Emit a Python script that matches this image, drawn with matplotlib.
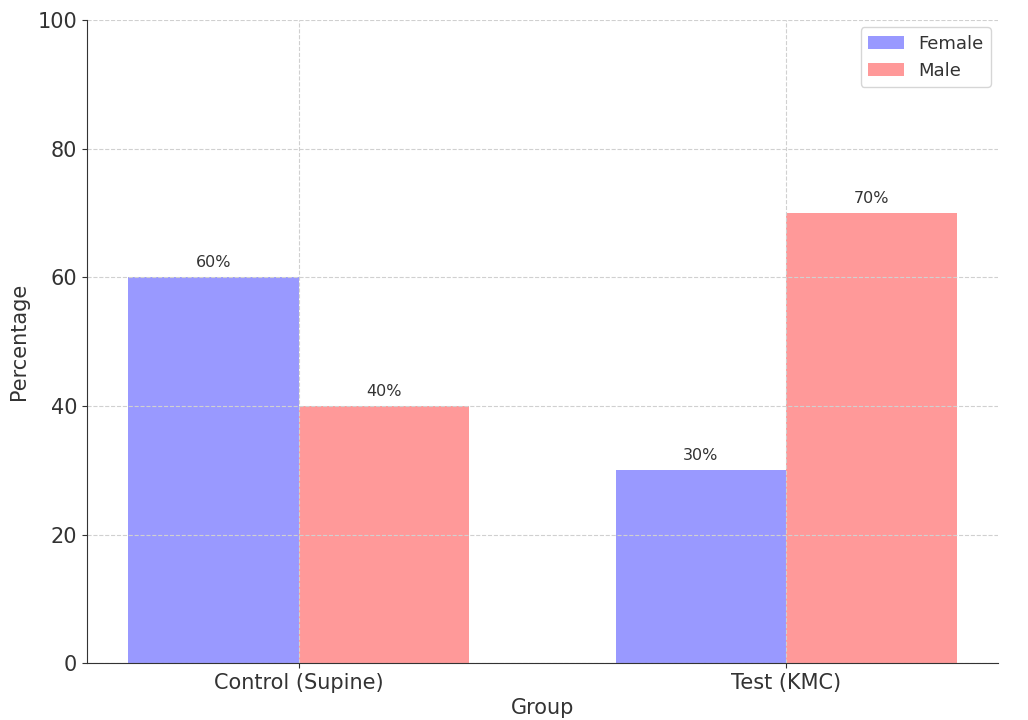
import numpy as np
import matplotlib.pyplot as plt

groups = ["Control (Supine)", "Test (KMC)"]
female = [60, 30]
male = [40, 70]

textColor = "#333333"
plt.rcParams["text.color"] = textColor
plt.rcParams["axes.labelcolor"] = textColor
plt.rcParams["xtick.color"] = textColor
plt.rcParams["ytick.color"] = textColor

fig = plt.figure(figsize=(10.28, 7.2), dpi=100)
ax = fig.add_axes([0.0846, 0.079, 0.8864, 0.893])

x = np.arange(len(groups))
width = 0.35

barsF = ax.bar(x - width / 2, female, width, color="blue", alpha=0.4, label="Female")
barsM = ax.bar(x + width / 2, male, width, color="red", alpha=0.4, label="Male")

# value labels above each bar
for bars in (barsF, barsM):
    for bar in bars:
        h = bar.get_height()
        ax.annotate(f"{h:.0f}%", xy=(bar.get_x() + bar.get_width() / 2, h),
                    xytext=(0, 5), textcoords="offset points",
                    ha="center", va="bottom", fontsize=11.5, color=textColor)

ax.set_ylim(0, 100)
ax.set_xticks(x)
ax.set_xticklabels(groups, fontsize=15)
ax.tick_params(axis="y", labelsize=15)
ax.set_xlabel("Group", fontsize=15, labelpad=4)
ax.set_ylabel("Percentage", fontsize=15, labelpad=6)

ax.grid(True, linestyle="--", color="#d0d0d0", linewidth=0.8)
ax.spines["top"].set_visible(False)
ax.spines["right"].set_visible(False)
ax.spines["left"].set_color(textColor)
ax.spines["bottom"].set_color(textColor)

ax.legend(loc="upper right", fontsize=13, borderaxespad=0.4)

plt.savefig("out.png")
